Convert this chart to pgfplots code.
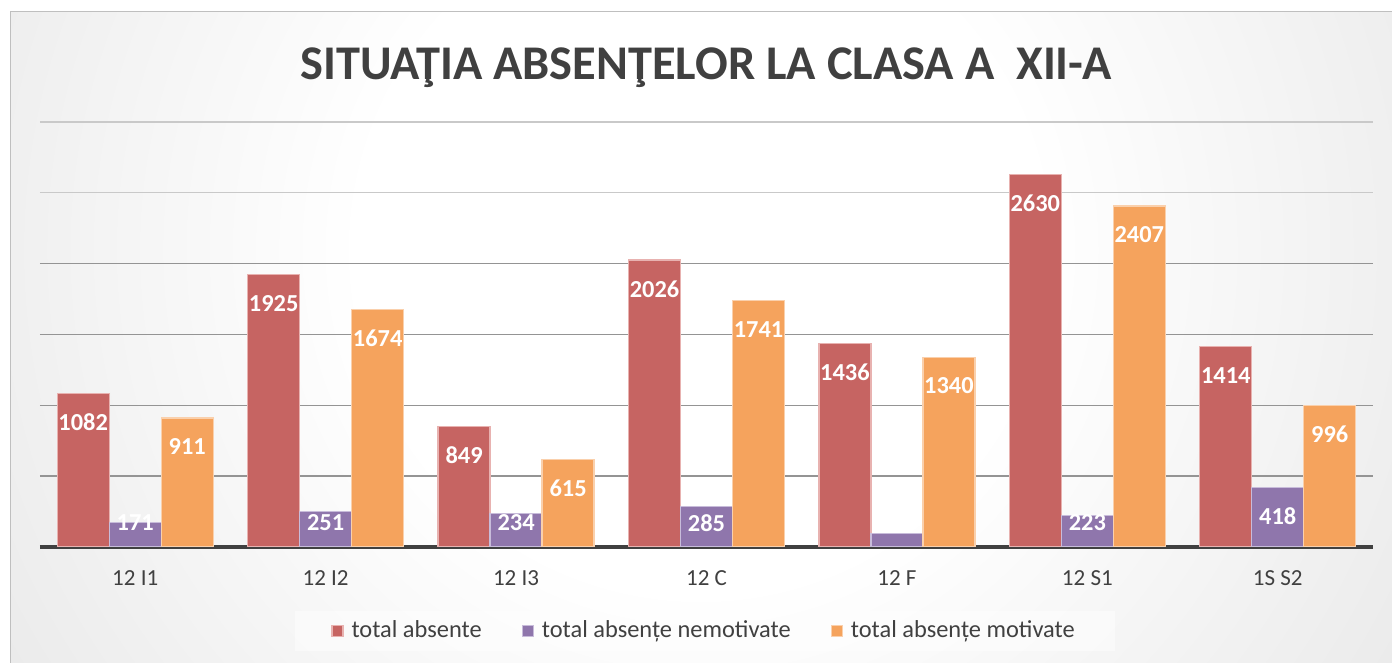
\documentclass[border=0pt]{standalone}
\usepackage{pgfplots}
\pgfplotsset{compat=1.18}
\usepackage{fontspec}
\setmainfont{Carlito}
\definecolor{cRed}{RGB}{198,100,98}
\definecolor{cRedE}{RGB}{232,178,176}
\definecolor{cPur}{RGB}{143,118,172}
\definecolor{cPurE}{RGB}{200,188,218}
\definecolor{cOra}{RGB}{245,163,93}
\definecolor{cOraE}{RGB}{250,208,172}
\definecolor{txt}{RGB}{64,64,64}
\pgfdeclareradialshading{bgshade}{\pgfpoint{0bp}{0bp}}{color(0bp)=(white); color(10bp)=(white); color(50bp)=(black!23)}
\begin{document}
\begin{tikzpicture}
\useasboundingbox (0pt,0pt) rectangle (696pt,331.5pt);
\fill[white] (0pt,0pt) rectangle (696pt,331.5pt);
\begin{scope}
\clip (5pt,0pt) rectangle (696pt,325.5pt);
\shade[shading=bgshade] (350pt,206.5pt) circle (425pt);
\end{scope}
\draw[black!25, line width=0.5pt] (5pt,-1pt) -- (5pt,325.5pt) -- (697pt,325.5pt);
\begin{axis}[
  at={(20pt,58pt)}, anchor=south west,
  scale only axis, width=666.5pt, height=212.5pt,
  xmin=-0.5, xmax=6.5, ymin=0, ymax=3000,
  ybar=0pt, bar width=26pt,
  axis x line*=bottom, axis y line*=left,
  y axis line style={draw=none},
  x axis line style={-, draw=black!75, line width=2pt},
  xtick={0,...,6},
  xticklabels={12 I1,12 I2,12 I3,12 C,12 F,12 S1,1S S2},
  major tick length=0pt, minor tick length=0pt,
  ytick={500,1000}, yticklabels={},
  extra y ticks={1500,2000}, extra y tick labels={},
  extra y tick style={grid style={black!33, line width=0.75pt}},
  minor ytick={2500,3000},
  ymajorgrids, yminorgrids,
  major grid style={black!42, line width=0.8pt},
  minor grid style={black!21, line width=0.6pt},
  xticklabel style={anchor=base, yshift=-19.5pt, font=\fontsize{11.5}{13}\selectfont, text=txt},
  legend style={at={(0.4989,-0.1976)}, anchor=center, legend columns=3,
    draw=none, fill=white, fill opacity=0.45, text opacity=1,
    font=\fontsize{12.2}{14}\selectfont, text=txt,
    inner xsep=18pt, inner ysep=3pt,
    /tikz/every even column/.append style={column sep=18pt}},
  legend image code/.code={\fill[#1, fill opacity=1, draw opacity=1] (0pt,-2.75pt) rectangle (5.5pt,2.75pt); \path (7.5pt,0pt);},
  visualization depends on={rawy \as \rawy},
  nodes near coords={\ifdim\rawy pt<100pt\else\pgfmathtruncatemacro\lab{\rawy}\lab\fi},
  every node near coord/.append style={anchor=center, font=\bfseries\fontsize{12.2}{14}\selectfont, text=white,
    yshift={-min(14.4,\rawy*0.0708333-12)*1pt}},
]
\addplot[fill=cRed, draw=cRedE, line width=0.6pt] coordinates {(0,1082) (1,1925) (2,849) (3,2026) (4,1436) (5,2630) (6,1414)};
\addplot[fill=cPur, draw=cPurE, line width=0.6pt] coordinates {(0,171) (1,251) (2,234) (3,285) (4,96) (5,223) (6,418)};
\addplot[fill=cOra, draw=cOraE, line width=0.6pt] coordinates {(0,911) (1,1674) (2,615) (3,1741) (4,1340) (5,2407) (6,996)};
\legend{total absente, total absențe nemotivate, total absențe motivate}
\end{axis}
\node[anchor=base, text=txt, font=\bfseries\fontsize{24.2}{28}\selectfont, inner sep=0pt] at (353pt,291.5pt) {SITUAŢIA ABSENŢELOR LA CLASA A~\ XII-A};
\end{tikzpicture}
\end{document}
